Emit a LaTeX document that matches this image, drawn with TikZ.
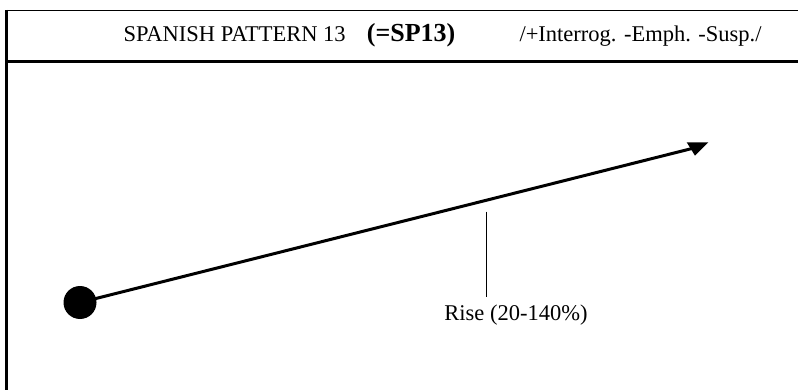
\documentclass[tikz,border=0pt]{standalone}
\usepackage{fontspec}
\setmainfont{Liberation Serif}
\begin{document}
\begin{tikzpicture}[x=1pt,y=-1pt,
  txt/.style={inner sep=0pt, anchor=base west, font=\fontsize{22.5}{27}\selectfont},
  boldtxt/.style={inner sep=0pt, anchor=base west, font=\bfseries\fontsize{26}{30}\selectfont},
  thinrule/.style={line width=1.3pt},
  thickrule/.style={line width=3.2pt},
  rayline/.style={line width=3pt},
  pointer/.style={line width=1.5pt}]
\useasboundingbox (0,0) rectangle (798,390);
% frame
\coordinate (tl) at (5,10.8);
\coordinate (tr) at (798,10.8);
\coordinate (hl) at (5,61.3);
\coordinate (hr) at (798,61.3);
\coordinate (lt) at (6.5,9.8);
\coordinate (lb) at (6.5,390);
\draw[thinrule] (tl) -- (tr);
\draw[thickrule] (hl) -- (hr);
\draw[thickrule] (lt) -- (lb);
% header text
\node[txt] (t1) at (123.3,41.7) {SPANISH PATTERN 13};
\node[boldtxt] (t2) at (366.7,41.7) {(=SP13)};
\node[txt] (t3) at (519.3,41.7) {/+Interrog. -Emph. -Susp./};
% dot and arrow
\node[circle, fill=black, minimum size=33pt, inner sep=0pt] (dot) at (80,302.5) {};
\coordinate (ahA) at (686.7,142.3);
\coordinate (tip) at (708.3,142.3);
\coordinate (ahC) at (695,155.7);
\coordinate (ahM) at (696,147.5);
\fill[black] (ahA) -- (tip) -- (ahC) -- cycle;
\draw[rayline] (dot.center) -- (ahM);
% pointer and label
\coordinate (vtop) at (486.7,211.7);
\coordinate (vbot) at (486.7,297.3);
\draw[pointer] (vtop) -- (vbot);
\node[inner sep=0pt, anchor=base, font=\fontsize{22.5}{27}\selectfont] (rise) at (516,320) {Rise (20-140\%)};
\end{tikzpicture}
\end{document}
